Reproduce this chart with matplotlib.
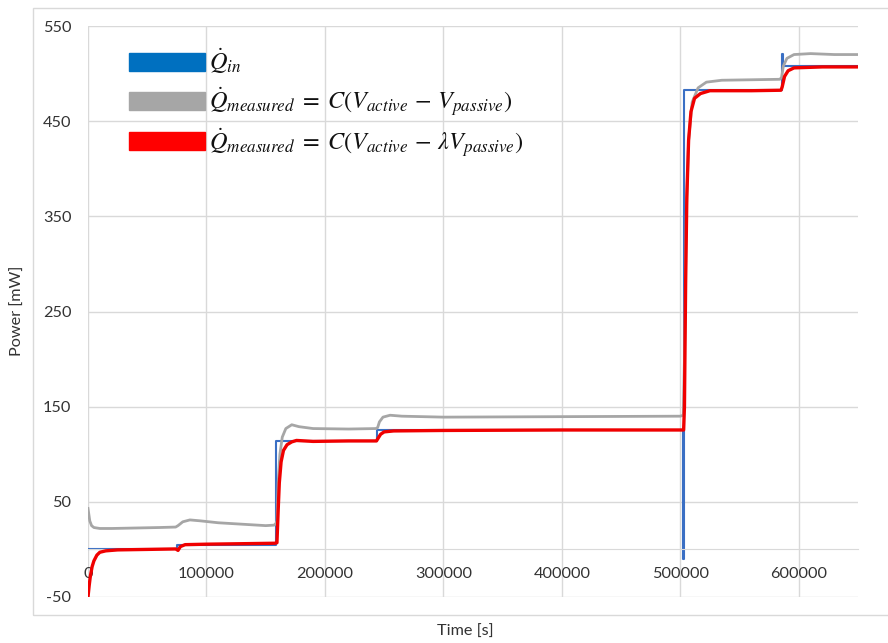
import matplotlib
matplotlib.use("Agg")
import matplotlib.pyplot as plt
from matplotlib.patches import Rectangle

plt.rcParams['font.family'] = ['Lato', 'DejaVu Sans']
plt.rcParams['mathtext.fontset'] = 'stix'
plt.rcParams['axes.unicode_minus'] = False

# heater input power, step changes (time [s], power [mW])
t_in = [0, 75000, 159000, 244000, 502500, 503000, 585500, 586500, 650000]
q_in = [0, 5, 114, 125, -10, 483, 521, 508, 508]

# measured power, no correction of the passive sensor
t_raw = [0, 1500, 3000, 5000, 10000, 20000, 40000, 60000, 74000, 76000, 80000,
         86000, 95000, 110000, 130000, 150000, 157000, 158500, 159500, 160500,
         162000, 164000, 167000, 172000, 178000, 190000, 220000, 243000, 244500,
         246000, 249000, 255000, 265000, 300000, 400000, 500000, 502500, 503500,
         505000, 507000, 510000, 515000, 522000, 535000, 560000, 584000, 585500,
         587000, 590000, 596000, 610000, 630000, 650000]
q_raw = [43, 30, 25, 23, 22, 22, 22.5, 23, 23.5, 25, 29,
         31, 30, 28, 26.5, 25, 25.5, 27, 30, 70,
         100, 118, 127, 131, 129, 127, 126.5, 127, 128,
         134, 139, 141, 140, 139, 139.5, 140, 141, 200,
         350, 430, 470, 485, 491, 493, 493.5, 494, 496,
         508, 516, 520, 521, 520, 520]

# measured power with lambda-weighted passive sensor
t_cor = [0, 1000, 2000, 3500, 5000, 7500, 10000, 15000, 25000, 50000, 74000,
         76000, 78000, 82000, 100000, 130000, 158000, 159500, 160500, 161500,
         163000, 165000, 168000, 172000, 176000, 190000, 220000, 243500, 245000,
         247000, 250000, 258000, 300000, 400000, 502800, 503500, 504500, 505500,
         507000, 509000, 512000, 517000, 525000, 560000, 585000, 586000, 588000,
         591000, 596000, 620000, 650000]
q_cor = [-50, -38, -28, -18, -12, -6, -3, -1.5, -0.5, 0, 0.5,
         -1, 3, 5, 5.5, 6, 6.5, 7, 40, 70,
         92, 104, 110, 113, 114.5, 113.5, 114, 114, 117,
         121, 123.5, 124.5, 125, 125.5, 125.5, 150, 280, 370,
         430, 460, 474, 479, 482, 482, 482.5, 486, 497,
         503, 506, 507, 507]

labels = [r'$\dot{Q}_{in}$',
          r'$\dot{Q}_{measured}\; =\; C(V_{active}\, -\, V_{passive})$',
          r'$\dot{Q}_{measured}\; =\; C(V_{active}\, -\, \lambda V_{passive})$']
legend_colors = ['#0070C0', '#A6A6A6', '#FF0000']

fig = plt.figure(figsize=(8.88, 6.43), dpi=100)
ax = fig.add_axes([88 / 888, 46 / 643, 770 / 888, 571 / 643])

ax.step(t_in, q_in, where='post', color='#3A6FC4', lw=1.5, zorder=2)
ax.plot(t_raw, q_raw, color='#A6A6A6', lw=2, zorder=3)
ax.plot(t_cor, q_cor, color='#F00000', lw=2.4, zorder=4)

ax.set_xlim(0, 650000)
ax.set_ylim(-50, 550)
ax.set_xticks(range(0, 650000, 100000))
ax.set_yticks(range(-50, 551, 100))
ax.grid(color='#d9d9d9', lw=1)
ax.set_axisbelow(True)

for s in ['left', 'top', 'right']:
    ax.spines[s].set_visible(False)
ax.spines['bottom'].set_position(('data', 0))
ax.spines['bottom'].set_color('#d9d9d9')
ax.tick_params(axis='x', length=0, pad=13, labelsize=11.7, labelcolor='#333333')
ax.tick_params(axis='y', length=0, pad=12, labelsize=11.7, labelcolor='#333333')

# legend drawn in the top-left corner of the plot area
rows_y = [0.9378, 0.8695, 0.7986]
for yc, lab, col in zip(rows_y, labels, legend_colors):
    ax.add_patch(Rectangle((0.053, yc - 0.0158), 0.0987, 0.0315, color=col,
                           transform=ax.transAxes, zorder=5))
    ax.text(0.157, yc - 0.0145, lab, transform=ax.transAxes, fontsize=17.5,
            va='baseline', ha='left', color='#111111', zorder=5)

fig.text(18 / 888, 1 - 311 / 643, 'Power [mW]', rotation=90, ha='center',
         va='center', fontsize=11.7, color='#333333')
fig.text(465 / 888, 1 - 632 / 643, 'Time [s]', ha='center', va='center',
         fontsize=11.7, color='#333333')

# chart area border
fig.patches.append(Rectangle((33 / 888, 28 / 643), 1.0, 607 / 643, fill=False,
                             edgecolor='#d9d9d9', lw=1, transform=fig.transFigure))

fig.savefig('out.png', dpi=100)
